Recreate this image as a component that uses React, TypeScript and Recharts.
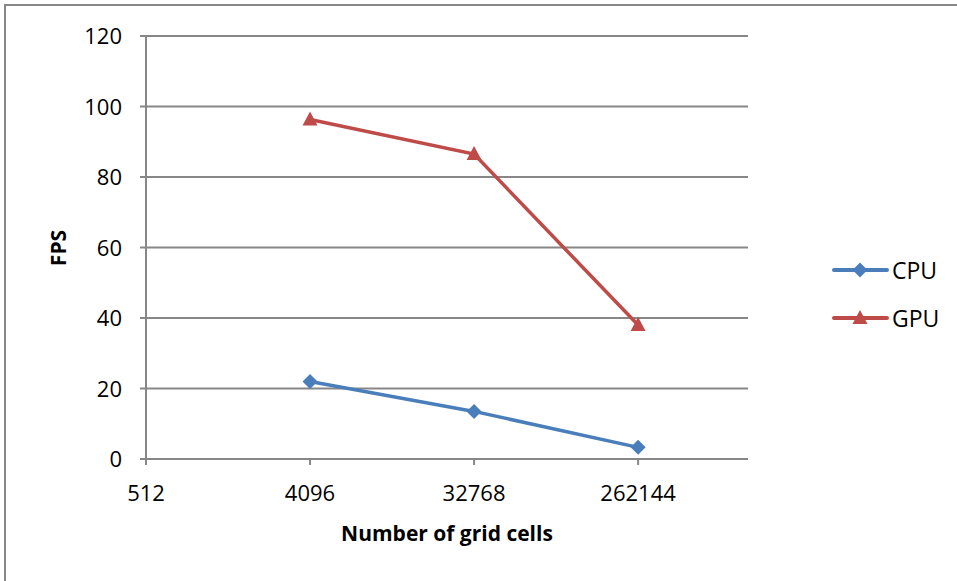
import React from 'react';
import { LineChart, Line, XAxis, YAxis, CartesianGrid, Legend } from 'recharts';

const categories = ['512', '4096', '32768', '262144'];
const cpuFps: (number | null)[] = [null, 22, 13.5, 3.3];
const gpuFps: (number | null)[] = [null, 96.3, 86.5, 38];
const yTicks = [0, 20, 40, 60, 80, 100, 120];
const xTicks = [0, 1, 2, 3];

const CPU_COLOR = '#4A7EBB';
const GPU_COLOR = '#BE4B48';
const GRID = '#878787';
const FONT = '"Open Sans", "Noto Sans", sans-serif';

const series = [
    { key: 'cpu', name: 'CPU', color: CPU_COLOR, shape: 'diamond' },
    { key: 'gpu', name: 'GPU', color: GPU_COLOR, shape: 'triangle' },
];

const data = categories.map((c, i) => ({ idx: i, label: c, cpu: cpuFps[i], gpu: gpuFps[i] }));

const markerPath = (shape: string, x: number, y: number) => {
    if (shape === 'diamond') {
        return `M${x},${y - 7.5}L${x + 7.5},${y}L${x},${y + 7.5}L${x - 7.5},${y}Z`;
    }
    return `M${x},${y - 8}L${x + 7.5},${y + 6}L${x - 7.5},${y + 6}Z`;
};

const makeDot = (shape: string, color: string) => (props: any) => {
    const { cx, cy, index, value } = props;
    if (value == null || cy == null || isNaN(cy)) return <g key={`d-${index}`} />;
    return <path key={`d-${index}`} d={markerPath(shape, cx, cy)} fill={color} stroke="none" />;
};

const XTick = (props: any) => {
    const { x, y, payload } = props;
    return (
        <text x={x} y={y + 34} textAnchor="middle" fill="#000" fontSize={22} fontFamily={FONT}>
            {categories[payload.value]}
        </text>
    );
};

const YTick = (props: any) => {
    const { x, y, payload } = props;
    return (
        <text x={x} y={y + 8} textAnchor="end" fill="#000" fontSize={22} fontFamily={FONT}>
            {payload.value}
        </text>
    );
};

const renderLegend = () => (
    <div style={{ fontFamily: FONT, fontSize: 23 }}>
        {series.map((s) => (
            <div key={s.key} style={{ display: 'flex', alignItems: 'center', height: 48 }}>
                <svg width={58} height={20}>
                    <line x1={2} y1={10} x2={55} y2={10} stroke={s.color} strokeWidth={4} strokeLinecap="round" />
                    <path d={markerPath(s.shape, 28, 10)} fill={s.color} />
                </svg>
                <span style={{ marginLeft: 2, color: '#000' }}>{s.name}</span>
            </div>
        ))}
    </div>
);

export default function App() {
    return (
        <div style={{ position: 'absolute', left: 0, top: 0, width: 957, height: 581, background: '#fff', overflow: 'hidden' }}>
            <div style={{ position: 'absolute', left: 4, top: 4, right: -10, bottom: -10, borderTop: `2px solid ${GRID}`, borderLeft: `2px solid ${GRID}` }} />
            <LineChart width={957} height={581} data={data} margin={{ top: 36, right: 85, bottom: 92, left: 66 }}>
                <CartesianGrid stroke={GRID} strokeWidth={2} vertical={false} />
                <XAxis
                    dataKey="idx"
                    type="number"
                    domain={[0, 3.67]}
                    ticks={xTicks}
                    allowDataOverflow
                    height={30}
                    stroke={GRID}
                    strokeWidth={2}
                    tickSize={6}
                    tick={<XTick />}
                    label={{
                        content: () => (
                            <text x={447} y={541} textAnchor="middle" fontWeight="bold" fontSize={21} fontFamily={FONT} fill="#000">
                                Number of grid cells
                            </text>
                        ),
                    }}
                />
                <YAxis
                    width={80}
                    domain={[0, 120]}
                    ticks={yTicks}
                    stroke={GRID}
                    strokeWidth={2}
                    tickSize={6}
                    tickMargin={18}
                    tick={<YTick />}
                    label={{
                        content: () => (
                            <text x={66} y={248} transform="rotate(-90 66 248)" textAnchor="middle" fontWeight="bold" fontSize={21} fontFamily={FONT} fill="#000">
                                FPS
                            </text>
                        ),
                    }}
                />
                <Legend
                    layout="horizontal"
                    verticalAlign="middle"
                    align="right"
                    content={renderLegend}
                    wrapperStyle={{ position: 'absolute', left: 832, top: 246, width: 124 }}
                />
                {series.map((s) => (
                    <Line
                        key={s.key}
                        dataKey={s.key}
                        name={s.name}
                        stroke={s.color}
                        strokeWidth={3.5}
                        dot={makeDot(s.shape, s.color)}
                        activeDot={false}
                        isAnimationActive={false}
                        connectNulls={false}
                    />
                ))}
            </LineChart>
        </div>
    );
}
